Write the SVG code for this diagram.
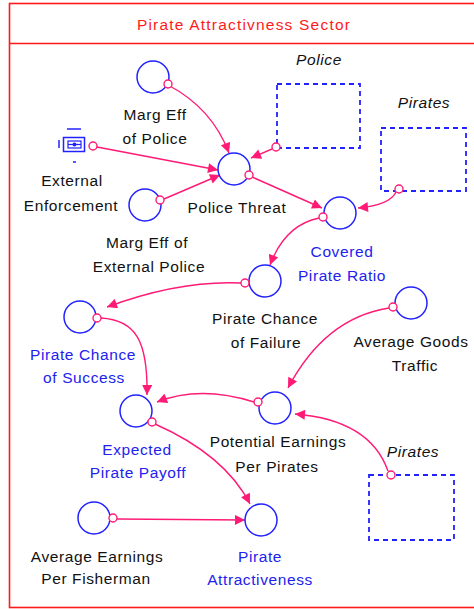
<svg xmlns="http://www.w3.org/2000/svg" width="474" height="609" viewBox="0 0 474 609">
<style>
.t{font-family:"Liberation Sans",Arial,sans-serif;font-size:15.5px;letter-spacing:0.6px;text-anchor:middle;fill:#111}
.b{fill:#2222ee}
.i{font-style:italic}
.r{fill:#ff1a1a;letter-spacing:1.2px}
.n{fill:none;stroke:#2222ff;stroke-width:1.5}
.g{fill:none;stroke:#2222ff;stroke-width:1.8;stroke-dasharray:5 4}
.c{fill:none;stroke:#ff1a75;stroke-width:1.4}
.p{fill:#fff;stroke:#ff1a75;stroke-width:1.4}
</style>
<defs>
<marker id="ah" viewBox="0 0 10 10" refX="10" refY="5" markerWidth="11" markerHeight="10" markerUnits="userSpaceOnUse" orient="auto">
<path d="M0,0 L10,5 L0,10 z" fill="#ff1a75"/>
</marker>
</defs>
<rect width="474" height="609" fill="#fff"/>
<g id="sector">
<rect x="9.5" y="3.5" width="480" height="604" fill="none" stroke="#ff1a1a" stroke-width="1.6"/>
<line x1="9.5" y1="43.5" x2="474" y2="43.5" stroke="#ff1a1a" stroke-width="1.6"/>
<text class="t r" x="244" y="30">Pirate Attractivness Sector</text>
</g>
<g id="connectors">
<path class="c" d="M168,85 Q212,108 229,153" marker-end="url(#ah)"/>
<path class="c" d="M97,147 L218,170" marker-end="url(#ah)"/>
<path class="c" d="M164,199 L220,175" marker-end="url(#ah)"/>
<path class="c" d="M272,149 L251,158" marker-end="url(#ah)"/>
<path class="c" d="M252,177 L322,208" marker-end="url(#ah)"/>
<path class="c" d="M396,192 Q390,205 358,208" marker-end="url(#ah)"/>
<path class="c" d="M319,218 Q285,225 270,265" marker-end="url(#ah)"/>
<path class="c" d="M241,283 Q180,280 107,307" marker-end="url(#ah)"/>
<path class="c" d="M101,318 C135,320 148,340 147,395" marker-end="url(#ah)"/>
<path class="c" d="M254,402 Q200,385 157,402" marker-end="url(#ah)"/>
<path class="c" d="M389,308 Q325,318 288,388" marker-end="url(#ah)"/>
<path class="c" d="M388,471 Q370,420 295,414" marker-end="url(#ah)"/>
<path class="c" d="M155,424 Q225,455 250,504" marker-end="url(#ah)"/>
<path class="c" d="M117,519 L245,520" marker-end="url(#ah)"/>
</g>
<g id="marg-eff-of-police">
<circle class="n" cx="153" cy="77" r="16"/>
<circle class="p" cx="168" cy="84" r="4"/>
<text class="t" x="155" y="120">Marg Eff</text>
<text class="t" x="155" y="144">of Police</text>
</g>
<g id="police-ghost">
<rect class="g" x="277" y="84" width="83" height="64"/>
<circle class="p" cx="276" cy="147" r="4"/>
<text class="t i" x="319" y="65">Police</text>
</g>
<g id="pirates-ghost-1">
<rect class="g" x="381" y="128" width="85" height="63"/>
<circle class="p" cx="399" cy="189" r="4"/>
<text class="t i" x="424" y="108">Pirates</text>
</g>
<g id="external-enforcement">
<line x1="67" y1="129" x2="81" y2="129" stroke="#2222ff" stroke-width="1.5"/>
<line x1="59" y1="140" x2="59" y2="148" stroke="#2222ff" stroke-width="1.5"/>
<rect x="63.5" y="137.5" width="21" height="14" fill="none" stroke="#2222ff" stroke-width="1.5"/>
<rect x="68" y="141" width="13" height="7" fill="none" stroke="#2222ff" stroke-width="1.2"/>
<line x1="68" y1="144.5" x2="81" y2="144.5" stroke="#2222ff" stroke-width="1.2"/>
<circle cx="74.5" cy="144.5" r="2" fill="#2222ff"/>
<line x1="73" y1="162" x2="76" y2="162" stroke="#2222ff" stroke-width="1.5"/>
<circle class="p" cx="93" cy="146" r="4"/>
<text class="t" x="72" y="186">External</text>
<text class="t" x="71" y="211">Enforcement</text>
</g>
<g id="police-threat">
<circle class="n" cx="234" cy="169" r="16"/>
<circle class="p" cx="249" cy="175" r="4"/>
<text class="t" x="237" y="213">Police Threat</text>
</g>
<g id="marg-eff-of-external-police">
<circle class="n" cx="145" cy="205" r="16"/>
<circle class="p" cx="160" cy="200" r="4"/>
<text class="t" x="147" y="248">Marg Eff of</text>
<text class="t" x="149" y="272">External Police</text>
</g>
<g id="covered-pirate-ratio">
<circle class="n" cx="340" cy="213" r="16"/>
<circle class="p" cx="323" cy="217" r="4"/>
<text class="t b" x="342" y="257">Covered</text>
<text class="t b" x="342" y="281">Pirate Ratio</text>
</g>
<g id="pirate-chance-of-failure">
<circle class="n" cx="265" cy="281" r="16"/>
<circle class="p" cx="245" cy="283" r="4"/>
<text class="t" x="265" y="324">Pirate Chance</text>
<text class="t" x="266" y="348">of Failure</text>
</g>
<g id="pirate-chance-of-success">
<circle class="n" cx="80" cy="317" r="16"/>
<circle class="p" cx="97" cy="318" r="4"/>
<text class="t b" x="83" y="360">Pirate Chance</text>
<text class="t b" x="84" y="383">of Success</text>
</g>
<g id="average-goods-traffic">
<circle class="n" cx="411" cy="303" r="16"/>
<circle class="p" cx="393" cy="307" r="4"/>
<text class="t" x="411" y="347">Average Goods</text>
<text class="t" x="415" y="371">Traffic</text>
</g>
<g id="expected-pirate-payoff">
<circle class="n" cx="136" cy="411" r="16"/>
<circle class="p" cx="152" cy="422" r="4"/>
<text class="t b" x="137" y="455">Expected</text>
<text class="t b" x="138" y="478">Pirate Payoff</text>
</g>
<g id="potential-earnings-per-pirates">
<circle class="n" cx="275" cy="408" r="16"/>
<circle class="p" cx="258" cy="402" r="4"/>
<text class="t" x="278" y="447">Potential Earnings</text>
<text class="t" x="277" y="472">Per Pirates</text>
</g>
<g id="pirates-ghost-2">
<rect class="g" x="369" y="475" width="85" height="65"/>
<circle class="p" cx="391" cy="475" r="4"/>
<text class="t i" x="413" y="457">Pirates</text>
</g>
<g id="average-earnings-per-fisherman">
<circle class="n" cx="94" cy="518" r="16"/>
<circle class="p" cx="113" cy="518" r="4"/>
<text class="t" x="97" y="562">Average Earnings</text>
<text class="t" x="96" y="584">Per Fisherman</text>
</g>
<g id="pirate-attractiveness">
<circle class="n" cx="261" cy="520" r="16"/>
<text class="t b" x="260" y="562">Pirate</text>
<text class="t b" x="260" y="585">Attractiveness</text>
</g>
</svg>
